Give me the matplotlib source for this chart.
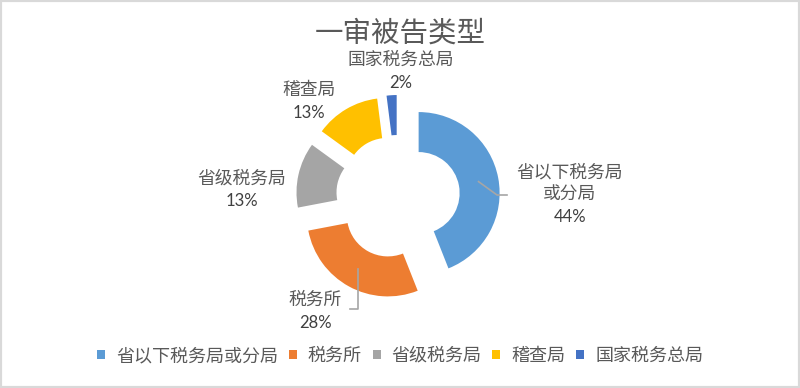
import numpy as np
import matplotlib.pyplot as plt
from matplotlib.patches import Rectangle

plt.rcParams['font.family'] = ['Noto Sans CJK SC', 'DejaVu Sans']

# data
categories = ['省以下税务局或分局', '税务所', '省级税务局', '稽查局', '国家税务总局']
label_lines = [['省以下税务局', '或分局'], ['税务所'], ['省级税务局'], ['稽查局'], ['国家税务总局']]
values = [44, 28, 13, 13, 2]
colors = ['#5B9BD5', '#ED7D31', '#A5A5A5', '#FFC000', '#4472C4']

# label layout (pixel coords, y from top): x centre, y of first line
label_pos = [(570, 172), (315, 300), (242, 179), (309, 90), (401, 60)]
line_step = 22.5

W, H = 800, 388
fig = plt.figure(figsize=(8, 3.88), dpi=100)
ax = fig.add_axes([0, 0, 1, 1])

cx, cy, R, ring, gap = 398, H - 197, 81, 40, 21
wedges, _ = ax.pie(values, colors=colors, startangle=90, counterclock=False,
                   radius=R, center=(cx, cy), explode=[gap] * len(values),
                   wedgeprops=dict(width=ring, linewidth=0))
ax.set_xlim(0, W)
ax.set_ylim(0, H)
ax.set_aspect('equal')
ax.axis('off')

total = sum(values)
for i, (lines, (lx, ly)) in enumerate(zip(label_lines, label_pos)):
    for j, ln in enumerate(lines):
        ax.text(lx, H - (ly + j * line_step), ln, ha='center', va='center',
                fontsize=12.8, color='#595959', fontweight='light')
    ax.text(lx, H - (ly + len(lines) * line_step), f'{values[i] / total * 100:.0f}%',
            ha='center', va='center', fontsize=12, color='#404040', family='Lato')

# leader lines for the two large slices
def mid_point(w):
    th = np.deg2rad((w.theta1 + w.theta2) / 2)
    r = w.r - ring / 2
    return w.center[0] + r * np.cos(th), w.center[1] + r * np.sin(th)

x0, y0 = mid_point(wedges[0])
ax.plot([x0, 497, 507], [y0, H - 195, H - 195], color='#A6A6A6', lw=1.2)
x1, y1 = mid_point(wedges[1])
ax.plot([x1, x1, 350], [y1, H - 309, H - 309], color='#A6A6A6', lw=1.2)

ax.text(W / 2, H - 34, '一审被告类型', ha='center', va='center',
        fontsize=20.5, color='#595959', fontweight='light')

leg = ax.legend(wedges, categories, loc='center', bbox_to_anchor=(400, H - 356),
                bbox_transform=ax.transData, ncol=5, frameon=False, fontsize=13,
                handlelength=0.45, handleheight=0.45, handletextpad=0.6,
                columnspacing=0.6, borderaxespad=0)
for t in leg.get_texts():
    t.set_color('#595959')
    t.set_fontweight('light')

fig.add_artist(Rectangle((0, 0), 1, 1, transform=fig.transFigure, fill=False,
                         ec='#D9D9D9', lw=3))

fig.savefig('out.png', dpi=100, facecolor='white')
